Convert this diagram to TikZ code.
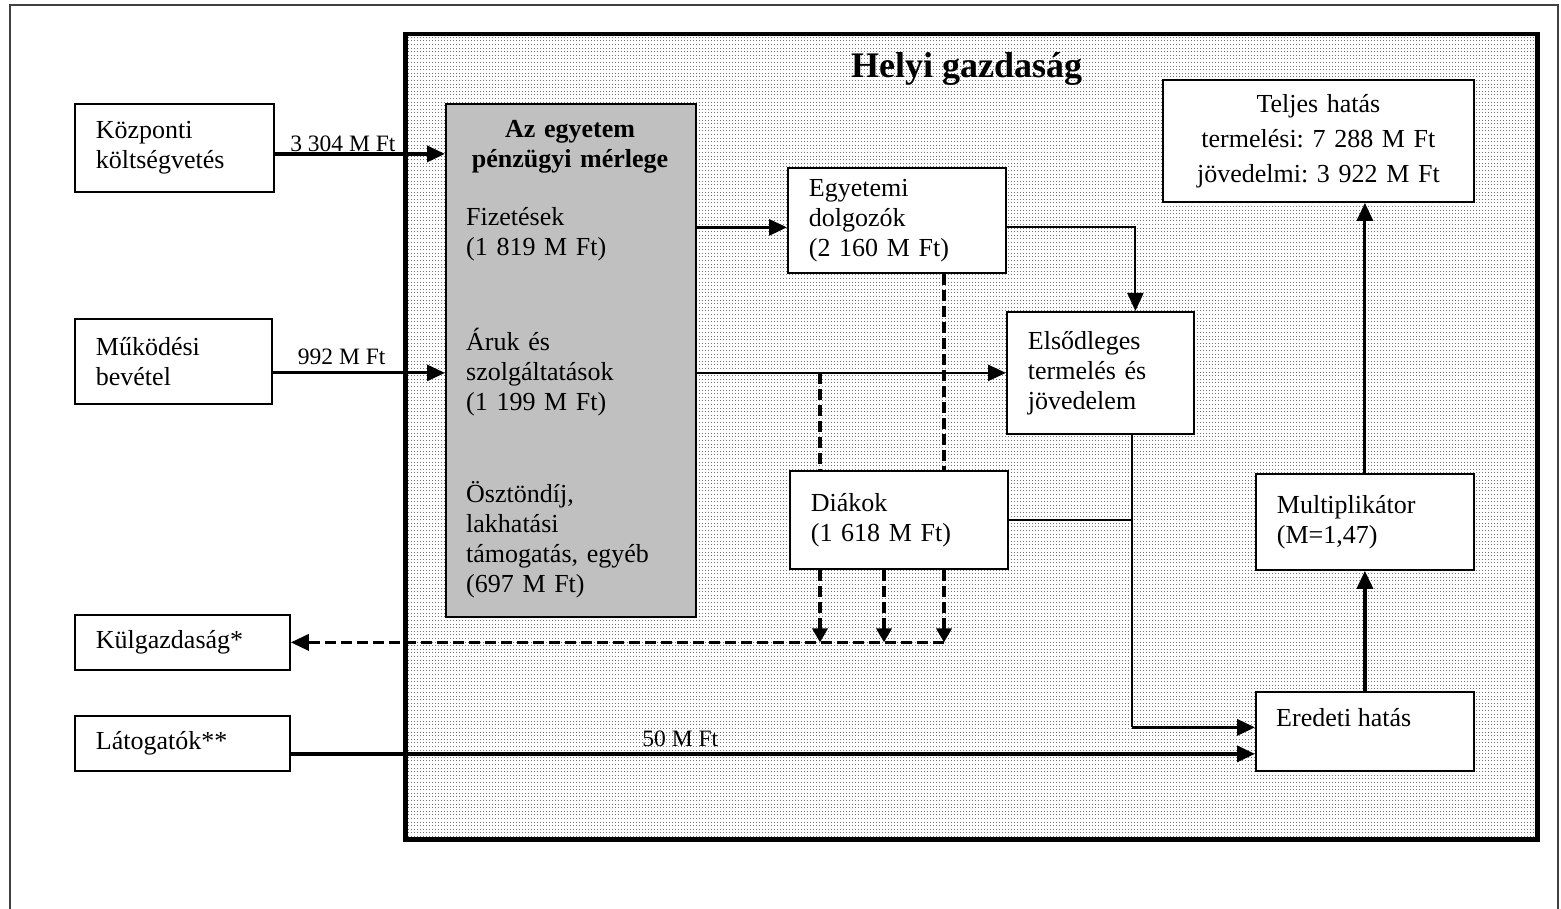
\documentclass[tikz,border=0pt]{standalone}
\usepackage{fontspec}
\setmainfont{Liberation Serif}
\usetikzlibrary{arrows.meta,patterns,calc}

% fine dot raster for the local economy area
\pgfdeclarepatternformonly{finedots}{\pgfpointorigin}{\pgfpoint{1pt}{1pt}}{\pgfpoint{3pt}{3.6pt}}%
  {\pgfpathrectangle{\pgfpointorigin}{\pgfpoint{1pt}{1pt}}\pgfusepath{fill}}

\newcommand\bodyfont{\fontsize{26}{30}\selectfont}
\newcommand\labelfont{\fontsize{23.5}{28}\selectfont}
\definecolor{balgray}{RGB}{192,192,192}

\tikzset{
  box/.style={draw, line width=1.8pt, fill=white, inner xsep=21pt, inner ysep=0pt,
              align=left, anchor=north west, font=\bodyfont},
  txt/.style={inner sep=0pt, align=left, font=\bodyfont},
  lab/.style={inner sep=0pt, font=\labelfont},
  arr/.style={-{Triangle[length=18pt,width=16pt]}},
  darr/.style={-{Triangle[length=14pt,width=15pt]}},
  dsh/.style={line width=3.5pt, dash pattern=on 11pt off 5pt},
}

\begin{document}
\frenchspacing
\begin{tikzpicture}[x=1pt,y=-1pt]
\useasboundingbox (0,0) rectangle (1561,909);
\fill[white] (0,0) rectangle (1561,909);

% page frame
\draw[black!75, line width=1.8pt] (10,909) -- (10,5) -- (1558,5) -- (1558,909);

% local economy area
\node[draw, line width=4.5pt, pattern=finedots, pattern color=black!55, anchor=north west,
      inner sep=0pt, minimum width=1132pt, minimum height=805pt] (helyi) at (403,32) {};
\node[anchor=base west, inner sep=0pt, font=\bfseries\fontsize{36}{40}\selectfont] (cim) at (851,78) {Helyi gazdaság};

% outside sources and sinks
\node[box, minimum width=199pt, minimum height=88pt, text width=157pt] (kozp) at (74,103) {Központi\\költségvetés};
\node[box, minimum width=197pt, minimum height=85pt, text width=155pt] (mukod) at (74,318) {Működési\\bevétel};
\node[box, minimum width=215pt, minimum height=55pt, text width=173pt] (kulg) at (74,614) {Külgazdaság*};
\node[box, minimum width=215pt, minimum height=55pt, text width=173pt] (latog) at (74,715) {Látogatók**};

% university balance
\node[draw, line width=1.8pt, fill=balgray, anchor=north west, inner sep=0pt,
      minimum width=250pt, minimum height=513pt] (merleg) at (445,103) {};
\node[txt, anchor=base, align=center, text width=230pt, font=\bfseries\bodyfont] (merlegcim) at (570,138) {Az egyetem\\pénzügyi mérlege};
\node[txt, anchor=base west, text width=220pt] (fiz) at (466,226) {Fizetések\\(1 819 M Ft)};
\node[txt, anchor=base west, text width=220pt] (aruk) at (466,351) {Áruk és\\szolgáltatások\\(1 199 M Ft)};
\node[txt, anchor=base west, text width=220pt] (oszt) at (466,502) {Ösztöndíj,\\lakhatási\\támogatás, egyéb\\(697 M Ft)};

% spending groups and effects
\node[box, minimum width=218pt, minimum height=105pt, text width=176pt] (egy) at (787,167) {Egyetemi\\dolgozók\\(2 160 M Ft)};
\node[box, minimum width=218pt, minimum height=98pt, text width=176pt] (diak) at (789,470) {Diákok\\(1 618 M Ft)};
\node[box, minimum width=187pt, minimum height=122pt, text width=145pt] (elso) at (1006,311) {Elsődleges\\termelés és\\jövedelem};
\node[box, minimum width=311pt, minimum height=122pt, text width=269pt, align=center,
      font=\fontsize{26}{35}\selectfont] (telj) at (1162,79) {Teljes hatás\\termelési: 7 288 M Ft\\jövedelmi: 3 922 M Ft};
\node[box, minimum width=218pt, minimum height=96pt, text width=176pt] (multi) at (1255,473) {Multiplikátor\\(M=1,47)};
\node[box, minimum width=218pt, minimum height=79pt, text width=176pt] (ered) at (1255,691) {};
\node[txt, anchor=base west] (eredt) at (1276,726) {Eredeti hatás};

% helper points on the box sides
\coordinate (kozpA) at ([yshift=-6pt]kozp.east);
\coordinate (fizA) at ([yshift=-7pt]egy.west);
\coordinate (elsoT) at ([xshift=35pt]elso.north);
\coordinate (elsoB) at ([xshift=31.5pt]elso.south);
\coordinate (eredA) at ([yshift=4pt]ered.west);
\coordinate (eredB) at ([yshift=-22.5pt]ered.west);
\coordinate (d1) at ([xshift=31pt]diak.north west);
\coordinate (d2) at ([xshift=95pt]diak.south west);
\coordinate (d3) at ([xshift=155pt]diak.north west);

% money flows
\draw[line width=3.5pt, arr] (kozpA) -- node[lab, pos=0.4, anchor=base, yshift=2pt] {3 304 M Ft} (kozpA -| merleg.west);
\draw[line width=3pt, arr] (mukod.east |- elso.west) -- node[lab, pos=0.4, anchor=base, yshift=8pt] {992 M Ft} (merleg.west |- elso.west);
\draw[line width=3pt, arr] (merleg.east |- fizA) -- (fizA);
\draw[line width=2.5pt, arr] (merleg.east |- elso.west) -- (elso.west);
\draw[line width=2pt, arr] (fizA -| egy.east) -| (elsoT);
\draw[line width=2pt] (elsoB) -- (elsoB |- eredA);
\draw[line width=3.5pt, arr] (elsoB |- eredA) -- (eredA);
\draw[line width=1.6pt] (diak.east) -- (diak.east -| elsoB);
\draw[line width=3.5pt, arr] (latog.east |- eredB) -- node[lab, pos=0.404, anchor=base, yshift=7pt] {50 M Ft} (eredB);
\draw[line width=3.5pt, arr] (ered.north) -- (multi.south);
\draw[line width=3pt, arr] (multi.north) -- (multi.north |- telj.south);

% leakage to the outside economy
\draw[dsh] (d1 |- elso.west) -- (d1);
\draw[dsh, darr] (d1 |- diak.south) -- (d1 |- kulg.east);
\draw[dsh, darr] (d2) -- (d2 |- kulg.east);
\draw[dsh] (d3 |- egy.south) -- (d3);
\draw[dsh, darr] (d3 |- diak.south) -- (d3 |- kulg.east);
\draw[dsh, arr] (d3 |- kulg.east) -- (kulg.east);
\end{tikzpicture}
\end{document}
